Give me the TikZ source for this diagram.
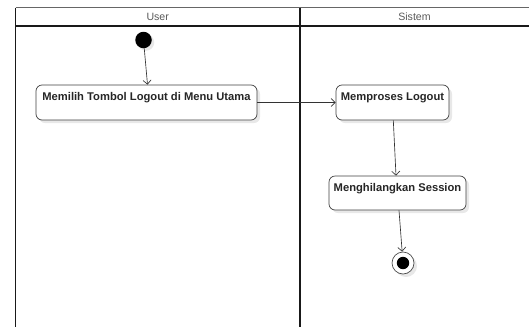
\documentclass[tikz,border=0pt]{standalone}
\usepackage{fontspec}
\setmainfont{Liberation Sans}
\usetikzlibrary{arrows.meta,shadows}

\tikzset{
  lane/.style={line width=1.3pt, draw=black!90},
  lanetitle/.style={font=\fontsize{10.6}{12}\selectfont, text=black!65, inner sep=0pt},
  act/.style={draw=black!75, line width=0.7pt, rounded corners=6pt, fill=white,
    font=\fontsize{11.2}{13}\selectfont\bfseries, text=black!85,
    inner xsep=0pt, inner ysep=0pt, text height=15pt,
    drop shadow={shadow xshift=3pt, shadow yshift=-3pt, fill=black!9, opacity=1}},
  startnode/.style={circle, fill=black, inner sep=0pt, minimum size=16.5pt,
    drop shadow={shadow xshift=2.5pt, shadow yshift=-2.5pt, fill=black!9, opacity=1}},
  endnode/.style={circle, draw=black!70, line width=0.7pt, fill=white, inner sep=0pt, minimum size=22pt,
    drop shadow={shadow xshift=3pt, shadow yshift=-3pt, fill=black!9, opacity=1}},
  flow/.style={draw=black!80, line width=0.65pt, -{Straight Barb[length=4pt,width=8pt]}}
}

\begin{document}
\begin{tikzpicture}[x=1pt, y=-1pt]
  \useasboundingbox (0,0) rectangle (529,327);

  % swimlane frame
  \draw[black!60, line width=1pt] (15.5,7.5) -- (529,7.5);
  \draw[lane] (15.5,26) -- (529,26);
  \draw[lane] (15.5,7.5) -- (15.5,327);
  \draw[lane, line width=1.6pt] (300,7.5) -- (300,327);

  % lane titles
  \node[lanetitle] (laneuser) at (157.7,17) {User};
  \node[lanetitle] (lanesys) at (414.5,17) {Sistem};

  % activities
  \node[startnode] (init) at (143.5,40) {};
  \node[act, minimum width=221pt, text depth=20pt] (n1) at (146.5,102.5) {Memilih Tombol Logout di Menu Utama};
  \node[act, minimum width=113pt, text depth=20pt] (n2) at (392.5,102.5) {Memproses Logout};
  \node[act, minimum width=137pt, text depth=19pt] (n3) at (397.5,193) {Menghilangkan Session};
  \node[endnode] (fin) at (403,263) {};
  \fill[black] (fin) circle (6.2pt);

  % control flow
  \draw[flow] (init) -- ([xshift=1pt]n1.north);
  \draw[flow] (n1.east) -- (n2.west);
  \draw[flow] ([xshift=0.8pt]n2.south) -- ([xshift=-1.5pt]n3.north);
  \draw[flow] ([xshift=1.5pt]n3.south) -- (fin);
\end{tikzpicture}
\end{document}
